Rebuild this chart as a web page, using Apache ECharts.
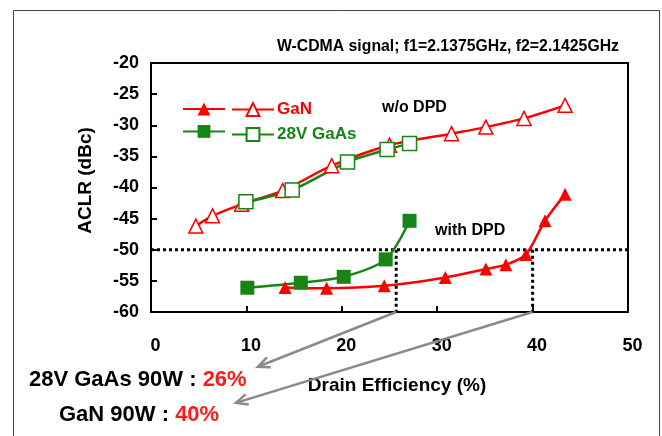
<!DOCTYPE html>
<html><head><meta charset="utf-8">
<script src="https://cdn.jsdelivr.net/npm/echarts@6/dist/echarts.min.js"></script>
<style>html,body{margin:0;padding:0;background:#fff}#c{width:662px;height:436px}</style>
</head><body><div id="c"></div>
<script>
// Drain efficiency (%) / ACLR (dBc)
const ganDpdX = [14.05, 18.4, 24.45, 30.85, 35.1, 37.2, 39.3, 41.3, 43.4];
const ganDpdY = [-56.05, -56.2, -55.8, -54.45, -53.1, -52.4, -50.75, -45.35, -41.1];
const ganNoDpdX = [4.7, 6.45, 9.5, 13.8, 18.95, 25.0, 31.5, 35.1, 39.1, 43.4];
const ganNoDpdY = [-46.2, -44.55, -42.7, -40.5, -36.5, -33.2, -31.35, -30.3, -28.9, -26.8];
const gaasDpdX = [10.1, 15.7, 20.2, 24.6, 27.1];
const gaasDpdY = [-56.1, -55.3, -54.35, -51.55, -45.35];
const gaasNoDpdX = [9.95, 14.8, 20.6, 24.75, 27.1];
const gaasNoDpdY = [-42.3, -40.4, -35.9, -33.9, -32.95];
const xTicks = [0, 10, 20, 30, 40, 50];
const yTicks = [-60, -55, -50, -45, -40, -35, -30, -25, -20];
const aclrLimit = -50;
const effGaas = 25.7, effGan = 40.0;
// arrow ends (data units, below the axis)
const arrowGaasEnd = [11.2, -68.8];
const arrowGanEnd = [8.9, -74.6];

const FONT = '"Liberation Sans Narrow","Liberation Sans",Arial,sans-serif';
const RED = '#ff0000', GREEN = '#168516';
const zip = (a, b) => a.map((v, i) => [v, b[i]]);

const chart = echarts.init(document.getElementById('c'), null, {renderer: 'canvas'});
const lineBase = {type: 'line', smooth: 0.3, symbolSize: 13, z: 3};
const dotted = {color: '#000', width: 3, type: [3, 3]};
chart.setOption({
  animation: false,
  textStyle: {fontFamily: FONT},
  grid: {left: 151, top: 63, right: 34, bottom: 124, show: true, borderColor: '#000', borderWidth: 2, backgroundColor: 'transparent'},
  xAxis: {
    type: 'value', min: xTicks[0], max: xTicks[xTicks.length - 1], interval: 10,
    name: 'Drain Efficiency (%)', nameLocation: 'middle', nameGap: 64,
    nameTextStyle: {fontFamily: FONT, fontSize: 19, fontWeight: 'bold', color: '#000', padding: [0, 0, 0, 15]},
    axisLine: {lineStyle: {color: '#000', width: 2}},
    axisTick: {inside: true, length: 6, lineStyle: {color: '#000', width: 2}},
    axisLabel: {fontFamily: FONT, fontSize: 18, fontWeight: 'bold', color: '#000', margin: 25, padding: [0, 0, 0, 9]},
    splitLine: {show: false}
  },
  yAxis: {
    type: 'value', min: yTicks[0], max: yTicks[yTicks.length - 1], interval: 5,
    name: 'ACLR (dBc)', nameLocation: 'middle', nameGap: 56,
    nameTextStyle: {fontFamily: FONT, fontSize: 19, fontWeight: 'bold', color: '#000', padding: [0, 0, 0, 14]},
    axisLine: {lineStyle: {color: '#000', width: 2}},
    axisTick: {inside: true, length: 6, lineStyle: {color: '#000', width: 2}},
    axisLabel: {fontFamily: FONT, fontSize: 18, fontWeight: 'bold', color: '#000', margin: 12},
    splitLine: {show: false}
  },
  legend: [
    {orient: 'vertical', left: 177, top: 96, itemWidth: 42, itemHeight: 16, itemGap: 8,
     data: ['GaN with DPD', 'GaAs with DPD'], formatter: () => '', selectedMode: false},
    {orient: 'vertical', left: 226, top: 96, itemWidth: 42, itemHeight: 16, itemGap: 8,
     selectedMode: false,
     textStyle: {fontFamily: FONT, fontSize: 17, fontWeight: 'bold', padding: [0, 0, 0, -2]},
     data: [{name: 'GaN', textStyle: {color: RED}}, {name: '28V GaAs', textStyle: {color: GREEN}}]}
  ],
  series: [
    Object.assign({}, lineBase, {name: 'GaN', data: zip(ganNoDpdX, ganNoDpdY), symbol: 'triangle', symbolSize: 14,
      itemStyle: {color: '#fff', borderColor: RED, borderWidth: 1.5}, lineStyle: {color: RED, width: 2.5}, color: RED}),
    Object.assign({}, lineBase, {name: '28V GaAs', data: zip(gaasNoDpdX, gaasNoDpdY), symbol: 'rect', symbolSize: 14,
      itemStyle: {color: '#fff', borderColor: GREEN, borderWidth: 1.5}, lineStyle: {color: GREEN, width: 2.5}, color: GREEN}),
    Object.assign({}, lineBase, {name: 'GaN with DPD', data: zip(ganDpdX, ganDpdY), symbol: 'triangle', symbolSize: 13,
      itemStyle: {color: RED}, lineStyle: {color: RED, width: 2.5}}),
    Object.assign({}, lineBase, {name: 'GaAs with DPD', data: zip(gaasDpdX, gaasDpdY), symbol: 'rect', symbolSize: 14,
      itemStyle: {color: GREEN}, lineStyle: {color: GREEN, width: 2.5}}),
    {type: 'line', name: 'limit', data: [[xTicks[0], aclrLimit], [xTicks[xTicks.length - 1], aclrLimit]], symbol: 'none',
     lineStyle: dotted, z: 2, silent: true},
    {type: 'line', name: 'vGaas', data: [[effGaas, aclrLimit], [effGaas, yTicks[0]]], symbol: 'none',
     lineStyle: dotted, z: 2, silent: true},
    {type: 'line', name: 'vGan', data: [[effGan, aclrLimit], [effGan, yTicks[0]]], symbol: 'none',
     lineStyle: dotted, z: 2, silent: true}
  ],
  graphic: [
    {type: 'rect', left: 11, top: 8, shape: {width: 646, height: 440}, style: {fill: 'none', stroke: '#444', lineWidth: 1}, silent: true, z: -1},
    {type: 'text', right: 43, top: 39, style: {text: 'W-CDMA signal; f1=2.1375GHz, f2=2.1425GHz', font: 'bold 15.8px ' + FONT, fill: '#000'}},
    {type: 'text', left: 382, top: 100, style: {text: 'w/o DPD', font: 'bold 16px ' + FONT, fill: '#000'}},
    {type: 'text', left: 435, top: 223, style: {text: 'with DPD', font: 'bold 16px ' + FONT, fill: '#000'}},
    {type: 'text', left: 29, top: 369, style: {text: '{a|28V GaAs 90W : }{b|26%}',
      rich: {a: {font: 'bold 22px ' + FONT, fill: '#000'}, b: {font: 'bold 22px ' + FONT, fill: '#ff1a1a'}}}},
    {type: 'text', left: 59, top: 404, style: {text: '{a|GaN 90W : }{b|40%}',
      rich: {a: {font: 'bold 22px ' + FONT, fill: '#000'}, b: {font: 'bold 22px ' + FONT, fill: '#ff1a1a'}}}}
  ]
});

// gray arrows from the efficiency crossings down to the annotation text
function arrow(fromData, toData) {
  const p0 = chart.convertToPixel({gridIndex: 0}, fromData);
  const p1 = chart.convertToPixel({gridIndex: 0}, toData);
  const ang = Math.atan2(p0[1] - p1[1], p0[0] - p1[0]);
  const L = 13, a = 0.42;
  const h1 = [p1[0] + L * Math.cos(ang + a), p1[1] + L * Math.sin(ang + a)];
  const h2 = [p1[0] + L * Math.cos(ang - a), p1[1] + L * Math.sin(ang - a)];
  const st = {stroke: '#8a8a8a', lineWidth: 2.5, fill: 'none'};
  return [
    {type: 'line', shape: {x1: p0[0], y1: p0[1], x2: p1[0], y2: p1[1]}, style: st, silent: true, z: 5},
    {type: 'polyline', shape: {points: [h1, p1, h2]}, style: st, silent: true, z: 5}
  ];
}
chart.setOption({graphic: [].concat(
  chart.getOption().graphic[0].elements,
  arrow([effGaas, yTicks[0]], arrowGaasEnd),
  arrow([effGan, yTicks[0]], arrowGanEnd)
)}, {replaceMerge: ['graphic']});
</script></body></html>
